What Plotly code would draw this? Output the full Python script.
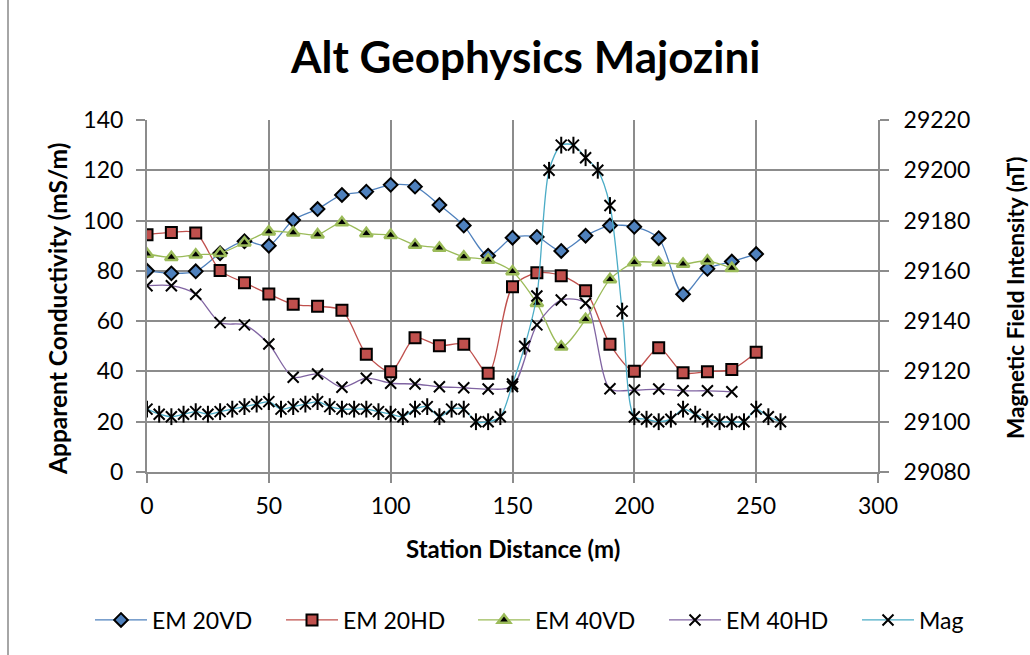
import plotly.graph_objects as go

# Station positions (m)
em_x = [0, 10, 20, 30, 40, 50, 60, 70, 80, 90, 100, 110, 120, 130, 140, 150, 160,
        170, 180, 190, 200, 210, 220, 230, 240, 250]
em_x_short = em_x[:-1]
mag_x = list(range(0, 265, 5))

# Apparent conductivity readings (mS/m)
em20vd = [80.0, 79.0, 79.8, 87.0, 91.8, 90.0, 100.2, 104.6, 110.2, 111.5, 114.2, 113.5,
          106.2, 98.0, 86.0, 93.2, 93.5, 87.9, 94.0, 98.0, 97.5, 93.0, 70.7, 80.8, 83.7, 86.7]
em20hd = [94.4, 95.3, 95.1, 80.1, 75.3, 70.8, 66.7, 65.9, 64.3, 46.8, 39.9, 53.4,
          50.2, 50.8, 39.3, 73.7, 79.2, 78.1, 72.1, 50.8, 40.1, 49.4, 39.5, 39.9, 40.8, 47.6]
em40vd = [86.7, 85.4, 86.4, 87.0, 91.2, 95.6, 95.2, 94.4, 99.2, 94.9, 94.2, 90.3,
          89.1, 85.6, 84.3, 79.7, 67.1, 49.8, 60.7, 76.6, 83.3, 83.3, 82.7, 84.0, 81.0]
em40hd = [74.1, 74.1, 70.7, 59.4, 58.5, 50.9, 37.7, 39.0, 33.7, 37.3, 35.3, 35.0,
          33.9, 33.5, 33.0, 34.0, 58.5, 68.4, 67.1, 33.1, 32.6, 33.0, 32.3, 32.3, 31.9]

# Total magnetic field (nT)
mag = [29105, 29103, 29102, 29103, 29104, 29103, 29104, 29105, 29106, 29107, 29108,
       29105, 29106, 29107, 29108, 29106, 29105, 29105, 29105, 29104, 29103, 29102,
       29105, 29106, 29102, 29105, 29105, 29100, 29100, 29102, 29115, 29130, 29150,
       29200, 29210, 29210, 29205, 29200, 29186, 29144, 29102, 29101, 29100, 29101,
       29105, 29103, 29101, 29100, 29100, 29100, 29105, 29102, 29100]

y_ticks = [0, 20, 40, 60, 80, 100, 120, 140]
y2_ticks = [29080, 29100, 29120, 29140, 29160, 29180, 29200, 29220]
x_ticks = [0, 50, 100, 150, 200, 250, 300]

FONT = "Lato, 'Open Sans', sans-serif"
GRID = "#8c8c8c"
W, H = 1030, 655
L, R, T, B = 147, 878, 120, 472


def px(x):
    return (x - L) / (R - L)


def py(y):
    return (B - y) / (B - T)


fig = go.Figure()

fig.add_trace(go.Scatter(
    x=em_x, y=em20vd, name="EM 20VD", mode="lines+markers", legend="legend",
    line=dict(color="#4F81BD", width=1.3, shape="spline", smoothing=0.8),
    marker=dict(symbol="diamond", size=10.5, color="#4F81BD",
                line=dict(color="black", width=2))))
fig.add_trace(go.Scatter(
    x=em_x, y=em20hd, name="EM 20HD", mode="lines+markers", legend="legend2",
    line=dict(color="#C0504D", width=1.3, shape="spline", smoothing=0.8),
    marker=dict(symbol="square", size=11, color="#C0504D",
                line=dict(color="black", width=2))))
fig.add_trace(go.Scatter(
    x=em_x_short, y=em40vd, name="EM 40VD", mode="lines+markers", legend="legend3",
    line=dict(color="#9BBB59", width=1.3, shape="spline", smoothing=0.8),
    marker=dict(symbol="triangle-up", size=11, color="black",
                line=dict(color="#9BBB59", width=2.5))))
fig.add_trace(go.Scatter(
    x=em_x_short, y=em40hd, name="EM 40HD", mode="lines+markers", legend="legend4",
    line=dict(color="#8064A2", width=1.3, shape="spline", smoothing=0.8),
    marker=dict(symbol="x-thin-open", size=11, color="black",
                line=dict(color="black", width=2))))
fig.add_trace(go.Scatter(
    x=mag_x, y=mag, name="Mag", mode="lines+markers", yaxis="y2", legend="legend5",
    line=dict(color="#4BACC6", width=1.3, shape="spline", smoothing=0.8),
    marker=dict(symbol="x-thin-open", size=11, color="black",
                line=dict(color="black", width=2))))
# vertical stroke completing the star marker of the Mag series
fig.add_trace(go.Scatter(
    x=mag_x, y=mag, mode="markers", yaxis="y2", showlegend=False, hoverinfo="skip",
    marker=dict(symbol="line-ns-open", size=12, color="black",
                line=dict(color="black", width=2))))

axis_common = dict(
    showline=True, linecolor=GRID, linewidth=2,
    ticks="outside", ticklen=9, tickwidth=2, tickcolor=GRID,
    tickfont=dict(family=FONT, size=23, color="black"),
    zeroline=False,
)

# one single-row legend box per series, spaced evenly along the bottom
legend_starts = [90, 281, 473, 664, 857]
legends = {}
for i, x0 in enumerate(legend_starts):
    key = "legend" if i == 0 else f"legend{i + 1}"
    legends[key] = dict(orientation="h", x=px(x0), xanchor="left",
                        y=py(620), yanchor="middle", itemwidth=52,
                        font=dict(family=FONT, size=23, color="black"),
                        bgcolor="rgba(0,0,0,0)")

fig.update_layout(
    width=W, height=H,
    margin=dict(l=L, r=W - R, t=T, b=H - B),
    paper_bgcolor="white", plot_bgcolor="white",
    font=dict(family=FONT, color="black"),
    xaxis=dict(range=[0, 300], tickvals=x_ticks, showgrid=True, gridcolor=GRID,
               gridwidth=2, ticklabelstandoff=3, **axis_common),
    yaxis=dict(range=[0, 140], tickvals=y_ticks, showgrid=True, gridcolor=GRID,
               gridwidth=2, ticklabelstandoff=8, **axis_common),
    yaxis2=dict(range=[29080, 29220], tickvals=y2_ticks, tickformat="d",
                overlaying="y", side="right", showgrid=False,
                ticklabelstandoff=10, **axis_common),
    showlegend=True,
    **legends,
)

annotations = [
    dict(text="<b>Alt Geophysics Majozini</b>", x=px(525), y=py(56),
         font=dict(size=44)),
    dict(text="<b>Apparent Conductivity (mS/m)</b>", x=px(57), y=py(309),
         textangle=-90, font=dict(size=24.5)),
    dict(text="<b>Magnetic Field Intensity (nT)</b>", x=px(1015), y=py(298),
         textangle=-90, font=dict(size=22.5)),
    dict(text="<b>Station Distance (m)</b>", x=px(513), y=py(548),
         font=dict(size=24)),
]
for a in annotations:
    a.update(xref="paper", yref="paper", showarrow=False,
             xanchor="center", yanchor="middle")
    a["font"].update(family=FONT, color="black")
fig.update_layout(annotations=annotations)

# chart-area border on the left
fig.add_shape(type="line", xref="paper", yref="paper",
              x0=px(8), x1=px(8), y0=py(0), y1=py(H),
              line=dict(color="#a6a6a6", width=2))

fig.write_html("out.html")
